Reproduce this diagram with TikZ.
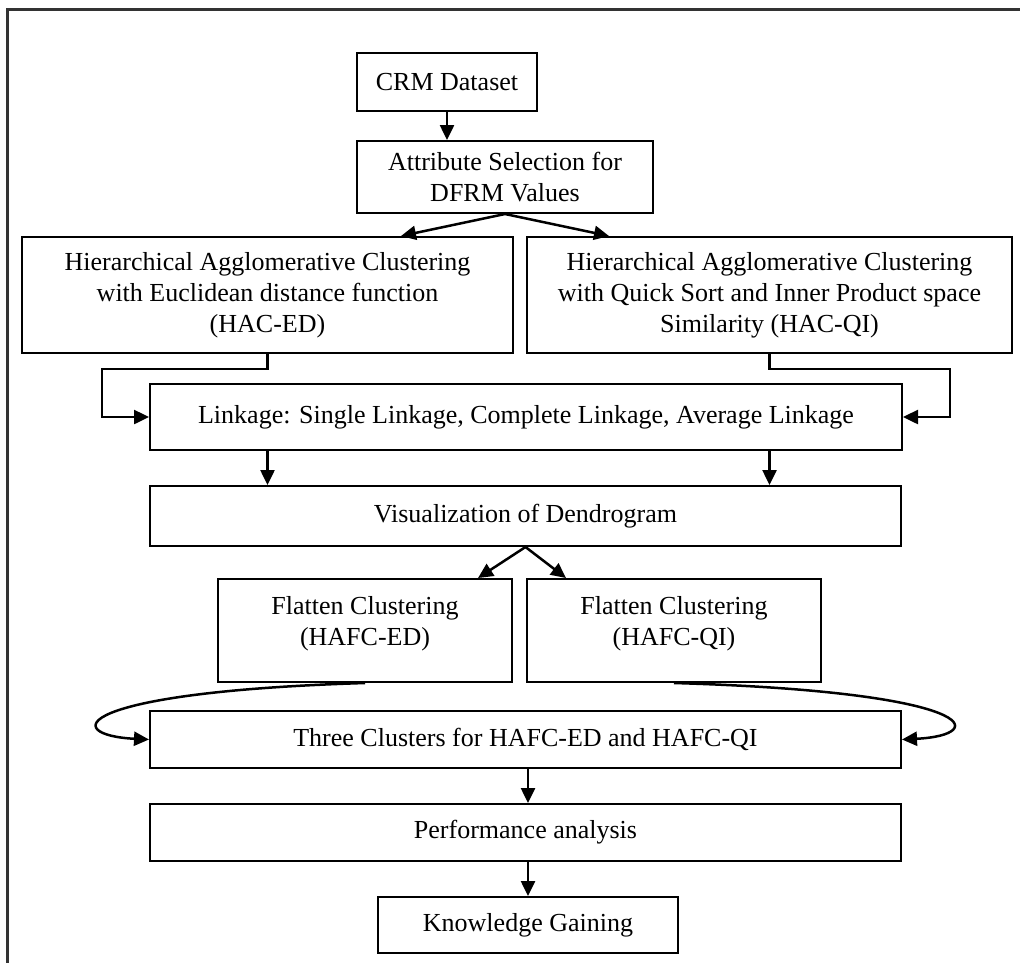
\documentclass[tikz,border=0pt]{standalone}
\usepackage{fontspec}
\setmainfont{Liberation Serif}
\usepackage{tikz}
\usetikzlibrary{shapes,arrows,arrows.meta,positioning}

\begin{document}
\begin{tikzpicture}
            [
                x=1pt, y=-1pt,
                flowbox/.style={rectangle, draw=black, line width=2pt, inner sep=0pt, align=center, font=\fontsize{26}{31}\selectfont},
                flowarrow/.style={line width=2.5pt, -{Triangle[length=15pt,width=14pt]}},
                outerframe/.style={line width=3pt, draw=black!80},
            ]

            \useasboundingbox (0,0) rectangle (1020,962);
            \draw[outerframe] (7,975) -- (7,9) -- (1030,9);

            %% TOP
            \node[flowbox, minimum width=180pt, minimum height=58pt] (crm) at(447,82) {CRM Dataset};
            \node[flowbox, minimum width=296pt, minimum height=72pt] (attr) at(505,177) {Attribute Selection for\\DFRM Values};

            %% TWO CLUSTERING METHODS
            \node[flowbox, minimum width=491pt, minimum height=116pt] (haced) at(267.5,295) {Hierarchical Agglomerative Clustering\\with Euclidean distance function\\(HAC-ED)};
            \node[flowbox, minimum width=485pt, minimum height=116pt] (hacqi) at(769.5,295) {Hierarchical Agglomerative Clustering\\with Quick Sort and Inner Product space\\Similarity (HAC-QI)};

            \node[flowbox, minimum width=752pt, minimum height=66pt] (link) at(526,417) {Linkage: Single Linkage, Complete Linkage, Average Linkage};
            \node[flowbox, minimum width=751pt, minimum height=60pt] (viz) at(525.5,516) {Visualization of Dendrogram};

            %% FLATTEN
            \node[flowbox, minimum width=294pt, minimum height=103pt, text depth=20pt] (fed) at(365,630.5) {Flatten Clustering\\(HAFC-ED)};
            \node[flowbox, minimum width=294pt, minimum height=103pt, text depth=20pt] (fqi) at(674,630.5) {Flatten Clustering\\(HAFC-QI)};

            %% BOTTOM
            \node[flowbox, minimum width=751pt, minimum height=57pt] (three) at(525.5,739.5) {Three Clusters for HAFC-ED and HAFC-QI};
            \node[flowbox, minimum width=751pt, minimum height=57pt] (perf) at(525.5,832.5) {Performance analysis};
            \node[flowbox, minimum width=300pt, minimum height=56pt] (know) at(528,925) {Knowledge Gaining};

            %% ARROWS
            \draw[flowarrow] (crm.south) -- (attr.north -| crm.south);
            \draw[flowarrow] (attr.south) -- ([xshift=-113pt]haced.north east);
            \draw[flowarrow] (attr.south) -- ([xshift=83pt]hacqi.north west);

            \draw[flowarrow] (haced.south) -- ++(0,15) -| ([xshift=-47pt]link.west) -- (link.west);
            \draw[flowarrow] (hacqi.south) -- ++(0,15) -| ([xshift=47pt]link.east) -- (link.east);

            \draw[flowarrow] (link.south -| haced.south) -- (viz.north -| haced.south);
            \draw[flowarrow] (link.south -| hacqi.south) -- (viz.north -| hacqi.south);

            \draw[flowarrow] (viz.south) -- ([xshift=-35pt]fed.north east);
            \draw[flowarrow] (viz.south) -- ([xshift=40pt]fqi.north west);

            \draw[flowarrow] (fed.south) .. controls (70,692) and (60,735) .. (three.west);
            \draw[flowarrow] (fqi.south) .. controls (981,692) and (991,735) .. (three.east);

            \draw[flowarrow] (three.south -| know.north) -- (perf.north -| know.north);
            \draw[flowarrow] (perf.south -| know.north) -- (know.north);

        \end{tikzpicture}
\end{document}
